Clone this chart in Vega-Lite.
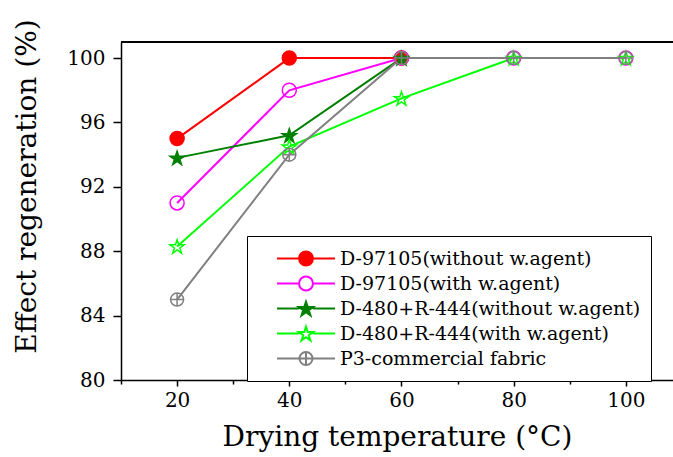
{
  "$schema": "https://vega.github.io/schema/vega-lite/v6.json",
  "width": 552,
  "height": 338,
  "autosize": {"type": "none"},
  "padding": {"left": 121, "top": 42, "right": 0, "bottom": 77},
  "background": "white",
  "config": {
    "view": {"stroke": null},
    "font": "DejaVu Serif",
    "axis": {
      "grid": false,
      "domainColor": "black",
      "domainWidth": 1.5,
      "tickColor": "black",
      "tickWidth": 1.5,
      "labelFont": "DejaVu Serif",
      "labelFontSize": 20,
      "labelColor": "black",
      "titleFont": "DejaVu Serif",
      "titleFontSize": 28,
      "titleFontWeight": "normal",
      "titleColor": "black"
    }
  },
  "data": {
    "values": [
      {"series": "D-97105(without w.agent)", "temp": 20, "eff": 95},
      {"series": "D-97105(without w.agent)", "temp": 40, "eff": 100},
      {"series": "D-97105(without w.agent)", "temp": 60, "eff": 100},
      {"series": "D-97105(with w.agent)", "temp": 20, "eff": 91},
      {"series": "D-97105(with w.agent)", "temp": 40, "eff": 98},
      {"series": "D-97105(with w.agent)", "temp": 60, "eff": 100},
      {"series": "D-97105(with w.agent)", "temp": 80, "eff": 100},
      {"series": "D-97105(with w.agent)", "temp": 100, "eff": 100},
      {"series": "D-480+R-444(without w.agent)", "temp": 20, "eff": 93.8},
      {"series": "D-480+R-444(without w.agent)", "temp": 40, "eff": 95.2},
      {"series": "D-480+R-444(without w.agent)", "temp": 60, "eff": 100},
      {"series": "D-480+R-444(with w.agent)", "temp": 20, "eff": 88.3},
      {"series": "D-480+R-444(with w.agent)", "temp": 40, "eff": 94.5},
      {"series": "D-480+R-444(with w.agent)", "temp": 60, "eff": 97.5},
      {"series": "D-480+R-444(with w.agent)", "temp": 80, "eff": 100},
      {"series": "D-480+R-444(with w.agent)", "temp": 100, "eff": 100},
      {"series": "P3-commercial fabric", "temp": 20, "eff": 85},
      {"series": "P3-commercial fabric", "temp": 40, "eff": 94},
      {"series": "P3-commercial fabric", "temp": 60, "eff": 100},
      {"series": "P3-commercial fabric", "temp": 80, "eff": 100},
      {"series": "P3-commercial fabric", "temp": 100, "eff": 100}
    ]
  },
  "layer": [
    {
      "mark": {"type": "rule", "color": "black", "strokeWidth": 1.5},
      "encoding": {"y": {"datum": 101, "type": "quantitative"}}
    },
    {
      "mark": {"type": "line", "strokeWidth": 2},
      "encoding": {
        "x": {
          "field": "temp", "type": "quantitative",
          "scale": {"domain": [10, 108.4], "nice": false, "zero": false},
          "axis": {
            "title": "Drying temperature (°C)",
            "values": [10, 20, 30, 40, 50, 60, 70, 80, 90, 100],
            "labelExpr": "datum.value % 20 === 0 && datum.value > 10 ? datum.label : ''",
            "tickSize": {"condition": {"test": "datum.value % 20 === 0", "value": 6}, "value": 4},
            "labelFont": "DejaVu Serif",
            "labelFontSize": 20,
            "labelPadding": 4,
            "labelFlush": false,
            "titleBaseline": "alphabetic",
            "titleY": 65
          }
        },
        "y": {
          "field": "eff", "type": "quantitative",
          "scale": {"domain": [80, 101], "nice": false, "zero": false},
          "axis": {
            "title": "Effect regeneration (%)",
            "values": [80, 82, 84, 86, 88, 90, 92, 94, 96, 98, 100],
            "labelExpr": "datum.value % 4 === 0 ? datum.label : ''",
            "tickSize": {"condition": {"test": "datum.value % 4 === 0", "value": 8}, "value": 5},
            "labelFont": "DejaVu Serif",
            "labelFontSize": 20,
            "labelPadding": 8,
            "labelFlush": false,
            "titleAngle": 270,
            "titleBaseline": "alphabetic",
            "titleAlign": "center",
            "titleX": -86,
            "titleY": 144
          }
        },
        "color": {
          "field": "series", "type": "nominal",
          "scale": {
            "domain": ["D-97105(without w.agent)", "D-97105(with w.agent)", "D-480+R-444(without w.agent)", "D-480+R-444(with w.agent)", "P3-commercial fabric"],
            "range": ["#FF0000", "#FF00FF", "#008000", "#00FF00", "#808080"]
          },
          "legend": null
        }
      }
    },
    {
      "mark": {"type": "point", "filled": true, "size": 196, "strokeWidth": 1.5, "opacity": 1},
      "encoding": {
        "x": {"field": "temp", "type": "quantitative"},
        "y": {"field": "eff", "type": "quantitative"},
        "shape": {
          "field": "series", "type": "nominal",
          "scale": {
            "domain": ["D-97105(without w.agent)", "D-97105(with w.agent)", "D-480+R-444(without w.agent)", "D-480+R-444(with w.agent)", "P3-commercial fabric"],
            "range": [
              "circle",
              "circle",
              "M0,-0.96L0.24,-0.23L1.018,-0.23L0.389,0.226L0.629,0.966L0,0.509L-0.629,0.966L-0.389,0.226L-1.018,-0.23L-0.24,-0.23Z",
              "M0,-0.96L0.24,-0.23L1.018,-0.23L0.389,0.226L0.629,0.966L0,0.509L-0.629,0.966L-0.389,0.226L-1.018,-0.23L-0.24,-0.23Z",
              "M0.93,0A0.93,0.93 0 1,1 -0.93,0A0.93,0.93 0 1,1 0.93,0ZM-0.93,0H0.93M0,-0.93V0.93"
            ]
          },
          "legend": null
        },
        "fill": {
          "field": "series", "type": "nominal",
          "scale": {
            "domain": ["D-97105(without w.agent)", "D-97105(with w.agent)", "D-480+R-444(without w.agent)", "D-480+R-444(with w.agent)", "P3-commercial fabric"],
            "range": ["#FF0000", "transparent", "#008000", "transparent", "transparent"]
          },
          "legend": null
        },
        "stroke": {
          "field": "series", "type": "nominal",
          "scale": {
            "domain": ["D-97105(without w.agent)", "D-97105(with w.agent)", "D-480+R-444(without w.agent)", "D-480+R-444(with w.agent)", "P3-commercial fabric"],
            "range": ["#FF0000", "#FF00FF", "#008000", "#00FF00", "#808080"]
          },
          "legend": null
        }
      }
    },
    {
      "data": {"values": []},
      "mark": {"type": "point", "filled": true, "strokeWidth": 2, "opacity": 1},
      "encoding": {
        "shape": {
          "field": "series", "type": "nominal",
          "scale": {
            "domain": ["D-97105(without w.agent)", "D-97105(with w.agent)", "D-480+R-444(without w.agent)", "D-480+R-444(with w.agent)", "P3-commercial fabric"],
            "range": [
              "M-1,0H-0.24M0.24,0H1M0.24,0A0.24,0.24 0 1,1 -0.24,0A0.24,0.24 0 1,1 0.24,0Z",
              "M-1,0H-0.24M0.24,0H1M0.24,0A0.24,0.24 0 1,1 -0.24,0A0.24,0.24 0 1,1 0.24,0Z",
              "M-1,0H-0.25M0.25,0H1M0,-0.234L0.0584,-0.0543L0.2473,-0.0543L0.0945,0.0567L0.1528,0.2363L0,0.1253L-0.1528,0.2363L-0.0945,0.0567L-0.2473,-0.0543L-0.0584,-0.0543Z",
              "M-1,0H-0.25M0.25,0H1M0,-0.234L0.0584,-0.0543L0.2473,-0.0543L0.0945,0.0567L0.1528,0.2363L0,0.1253L-0.1528,0.2363L-0.0945,0.0567L-0.2473,-0.0543L-0.0584,-0.0543Z",
              "M-1,0H-0.224M0.224,0H1M0.224,0A0.224,0.224 0 1,1 -0.224,0A0.224,0.224 0 1,1 0.224,0ZM-0.224,0H0.224M0,-0.224V0.224"
            ]
          },
          "legend": {
            "title": null, "orient": "none", "legendX": 126, "legendY": 194,
            "padding": 10, "strokeColor": "black", "fillColor": "white",
            "symbolSize": 3364, "symbolStrokeWidth": 2, "symbolOffset": 19,
            "labelOffset": 4, "clipHeight": 25, "rowPadding": 0,
            "labelFont": "DejaVu Serif", "labelFontSize": 19, "labelColor": "black", "labelLimit": 500
          }
        },
        "fill": {
          "field": "series", "type": "nominal",
          "scale": {
            "domain": ["D-97105(without w.agent)", "D-97105(with w.agent)", "D-480+R-444(without w.agent)", "D-480+R-444(with w.agent)", "P3-commercial fabric"],
            "range": ["#FF0000", "transparent", "#008000", "transparent", "transparent"]
          },
          "legend": {
            "title": null, "orient": "none", "legendX": 126, "legendY": 194,
            "padding": 10, "strokeColor": "black", "fillColor": "white",
            "symbolSize": 3364, "symbolStrokeWidth": 2, "symbolOffset": 19,
            "labelOffset": 4, "clipHeight": 25, "rowPadding": 0,
            "labelFont": "DejaVu Serif", "labelFontSize": 19, "labelColor": "black", "labelLimit": 500
          }
        },
        "stroke": {
          "field": "series", "type": "nominal",
          "scale": {
            "domain": ["D-97105(without w.agent)", "D-97105(with w.agent)", "D-480+R-444(without w.agent)", "D-480+R-444(with w.agent)", "P3-commercial fabric"],
            "range": ["#FF0000", "#FF00FF", "#008000", "#00FF00", "#808080"]
          },
          "legend": {
            "title": null, "orient": "none", "legendX": 126, "legendY": 194,
            "padding": 10, "strokeColor": "black", "fillColor": "white",
            "symbolSize": 3364, "symbolStrokeWidth": 2, "symbolOffset": 19,
            "labelOffset": 4, "clipHeight": 25, "rowPadding": 0,
            "labelFont": "DejaVu Serif", "labelFontSize": 19, "labelColor": "black", "labelLimit": 500
          }
        }
      }
    }
  ],
  "resolve": {"scale": {"shape": "independent", "fill": "independent", "stroke": "independent"}}
}
